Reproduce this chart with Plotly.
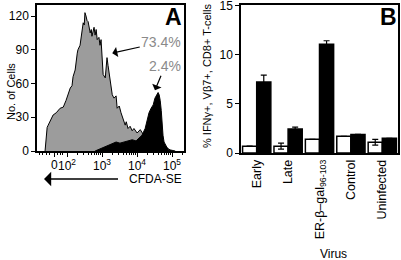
import plotly.graph_objects as go
import math

# ---------------- Panel A data (CFDA-SE histogram; x in decade units) ----------------
gray_x = [1.37, 1.43, 1.46, 1.51, 1.60, 1.69, 1.80, 1.89, 1.97, 2.09, 2.14, 2.17, 2.23, 2.29, 2.31,
          2.37, 2.43, 2.46, 2.49, 2.51, 2.54, 2.57, 2.60, 2.66, 2.69, 2.71, 2.77, 2.80, 2.83, 2.86,
          2.91, 2.94, 2.97, 3.00, 3.03, 3.09, 3.14, 3.17, 3.23, 3.29, 3.34, 3.40, 3.43, 3.49, 3.54,
          3.60, 3.66, 3.69, 3.74, 3.80, 3.86, 3.91, 4.00, 4.09, 4.17, 4.26, 4.37, 4.51, 4.66, 4.80,
          4.94, 5.09]
gray_y = [0, 21, 23, 26, 32, 34, 38, 39, 45, 56, 58, 66, 72, 87, 90,
          94, 108, 114, 112, 123, 120, 116, 115, 105, 108, 102, 110, 103, 108, 99,
          101, 94, 99, 87, 68, 65, 83, 76, 63, 50, 47, 49, 38, 40, 34,
          29, 23, 26, 20, 22, 18, 20, 16, 19, 15, 12, 10, 8, 6, 4,
          1, 0]

black_x = [2.80, 2.94, 3.09, 3.17, 3.29, 3.40, 3.51, 3.63, 3.74, 3.86, 3.97, 4.06, 4.14, 4.23,
           4.29, 4.34, 4.40, 4.46, 4.51, 4.57, 4.60, 4.63, 4.66, 4.69, 4.71, 4.74, 4.77, 4.83,
           4.89, 5.00]
black_y = [0, 2, 4, 5, 7, 8, 7, 8, 9, 10, 9, 12, 14, 20,
           29, 34, 38, 41, 47, 51, 52, 50, 45, 36, 26, 14, 8, 4,
           1, 0]

a_yticks = [0, 30, 60, 90, 120]
a_xtickvals = [1.63, 2, 3, 4, 5]
a_xticktext = ["0", "10<sup>2</sup>", "10<sup>3</sup>", "10<sup>4</sup>", "10<sup>5</sup>"]

# ---------------- Panel B data ----------------
viruses = ["Early", "Late", "ER-\u03b2\u2013gal<sub>96-103</sub>", "Control", "Uninfected"]
white_vals = [0.7, 0.7, 1.4, 1.7, 1.1]
white_err = [0, 0.3, 0, 0, 0.3]
black_vals = [7.25, 2.45, 11.1, 1.9, 1.5]
black_err = [0.7, 0.2, 0.35, 0, 0]
b_yticks = [0, 5, 10, 15]

FONT = "Liberation Sans, Arial, Helvetica, sans-serif"
W, H = 401, 260

def px_x(p):
    return p / W

def px_y(p):
    return 1 - p / H

fig = go.Figure()

fig.add_trace(go.Scatter(x=gray_x, y=gray_y, mode="lines", fill="tozeroy",
                         fillcolor="#9c9c9c", line=dict(color="black", width=1),
                         xaxis="x", yaxis="y", showlegend=False, hoverinfo="skip"))
fig.add_trace(go.Scatter(x=black_x, y=black_y, mode="lines", fill="tozeroy",
                         fillcolor="black", line=dict(color="black", width=1),
                         xaxis="x", yaxis="y", showlegend=False, hoverinfo="skip"))

fig.add_trace(go.Bar(x=viruses, y=white_vals, marker=dict(color="white", line=dict(color="black", width=1.5)),
                     error_y=dict(type="data", array=white_err, color="black", thickness=1.2, width=3),
                     xaxis="x2", yaxis="y2", showlegend=False, hoverinfo="skip"))
fig.add_trace(go.Bar(x=viruses, y=black_vals, marker=dict(color="black", line=dict(color="black", width=1.5)),
                     error_y=dict(type="data", array=black_err, color="black", thickness=1.2, width=3),
                     xaxis="x2", yaxis="y2", showlegend=False, hoverinfo="skip"))

# minor ticks for the log part
minor_vals = [1.2, 1.3, 1.4, 1.5, 1.72, 1.8, 1.88]
for n in (2, 3, 4):
    for k in range(2, 10):
        minor_vals.append(n + math.log10(k))
minor_vals.append(5 + math.log10(2))

def axis_common(size=12):
    return dict(showline=True, linecolor="black", linewidth=1.5, mirror=True,
                showgrid=False, zeroline=False, tickcolor="black", automargin=False,
                ticklabeloverflow="allow",
                tickfont=dict(family=FONT, size=size, color="black"))

fig.update_layout(
    width=W, height=H, margin=dict(l=0, r=0, t=0, b=0, autoexpand=False),
    paper_bgcolor="white", plot_bgcolor="white",
    font=dict(family=FONT, size=12, color="black"),
    barmode="group", bargap=0.1, bargroupgap=0, hovermode=False,
    xaxis=dict(domain=[px_x(37), px_x(184)], range=[1.14, 5.34], anchor="y",
               tickmode="array", tickvals=a_xtickvals, showticklabels=False,
               ticks="outside", ticklen=4, tickwidth=1,
               minor=dict(tickmode="array", tickvals=minor_vals, ticks="outside", ticklen=2,
                          tickcolor="black", tickwidth=1),
               **axis_common(12)),
    yaxis=dict(domain=[px_y(151), px_y(5)], range=[0, 129.8], anchor="x",
               tickmode="array", tickvals=a_yticks,
               ticks="outside", ticklen=4, tickwidth=1,
               **axis_common(12)),
    xaxis2=dict(domain=[px_x(241), px_x(398)], anchor="y2", tickangle=-90, ticks="",
                **axis_common(12.5)),
    yaxis2=dict(domain=[px_y(153), px_y(5)], range=[0, 15.1], anchor="x2",
                tickmode="array", tickvals=b_yticks,
                ticks="outside", ticklen=4, tickwidth=1,
                **axis_common(12)),
)

def label(text, x, y, size=12, angle=0, bold=False, color="black"):
    return dict(text=("<b>%s</b>" % text) if bold else text, x=px_x(x), y=px_y(y),
                xref="paper", yref="paper", xanchor="center", yanchor="middle",
                showarrow=False, textangle=angle,
                font=dict(size=size, family=FONT, color=color))

ann = [
    label("A", 173, 17, size=23, bold=True),
    label("B", 388, 17, size=23, bold=True),
    label("% IFN\u03b3+, V\u03b27+, CD8+ T-cells", 207, 76, size=11, angle=-90),
    label("Virus", 333, 254, size=12),
    label("CFDA-SE", 155, 179, size=12),
]
# y-axis title of panel A (left-anchored, as in the working layout)
ann.append(dict(text="No. of Cells", x=px_x(3), y=px_y(92), xref="paper", yref="paper",
                showarrow=False, textangle=-90,
                font=dict(size=11, family=FONT, color="black")))
# x tick labels of panel A, placed on the axis' own data scale
for v, t in zip(a_xtickvals, a_xticktext):
    ann.append(dict(text=t, x=v, y=px_y(165), xref="x", yref="paper", xanchor="center",
                    yanchor="middle", showarrow=False,
                    font=dict(size=12, family=FONT, color="black")))
ann.append(dict(text=" ", x=px_x(44), y=px_y(179), xref="paper", yref="paper",
                ax=76, ay=0, axref="pixel", ayref="pixel", showarrow=True,
                arrowhead=1, arrowsize=1.6, arrowwidth=1.5, arrowcolor="black",
                font=dict(size=2)))
ann.append(dict(text="73.4%", x=3.29, y=87, xref="x", yref="y", ax=49, ay=-11,
                showarrow=True, arrowhead=1, arrowsize=1.4, arrowwidth=1.2, arrowcolor="black",
                font=dict(size=14, family=FONT, color="#8a8a8a")))
ann.append(dict(text="2.4%", x=4.51, y=54, xref="x", yref="y", ax=10, ay=-24,
                showarrow=True, arrowhead=1, arrowsize=1.4, arrowwidth=1.2, arrowcolor="black",
                font=dict(size=14, family=FONT, color="#8a8a8a")))
fig.update_layout(annotations=ann)

fig.write_html("out.html", config={"displayModeBar": False},
               post_script="document.body.style.margin='0';document.body.style.padding='0';")
